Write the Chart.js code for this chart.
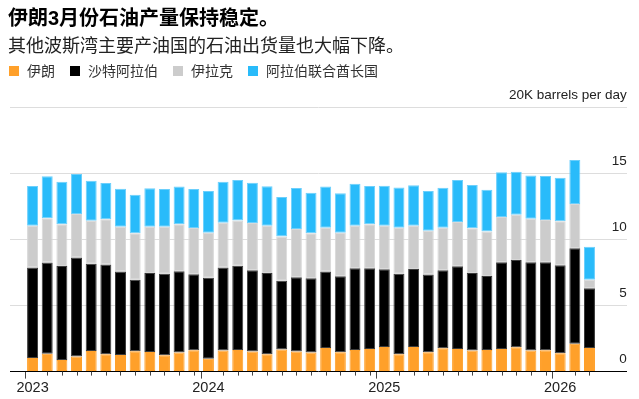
<!DOCTYPE html>
<html>
<head>
<meta charset="utf-8">
<script src="https://cdn.jsdelivr.net/npm/chart.js@4.4.1/dist/chart.umd.min.js"></script>
<style>
  html, body { margin: 0; padding: 0; background: #fff; }
  #wrap { position: relative; width: 639px; height: 399px; overflow: hidden; }
  #wrap canvas { position: absolute; left: 0; top: 0; }
  .txt { position: absolute; left: 8px; white-space: nowrap; font-family: "Liberation Sans", "Noto Sans CJK SC", sans-serif; }
  #title { top: 8px; font-size: 20px; line-height: 20px; font-weight: bold; color: #000; }
  #sub { top: 37px; font-size: 18px; line-height: 18px; color: #222; }
  #legend { top: 64px; left: 9px; font-size: 14px; line-height: 14px; color: #333; display: flex; }
  .item { display: flex; align-items: center; margin-right: 15px; }
  .sw { width: 10px; height: 10px; margin-right: 8px; }
</style>
</head>
<body>
<div id="wrap">
  <canvas id="c" width="639" height="399"></canvas>
  <div id="title" class="txt">伊朗3月份石油产量保持稳定。</div>
  <div id="sub" class="txt">其他波斯湾主要产油国的石油出货量也大幅下降。</div>
  <div id="legend" class="txt"></div>
</div>
<script>
// ---- data ----
const months = [
  "2023-01","2023-02","2023-03","2023-04","2023-05","2023-06","2023-07","2023-08","2023-09","2023-10","2023-11","2023-12",
  "2024-01","2024-02","2024-03","2024-04","2024-05","2024-06","2024-07","2024-08","2024-09","2024-10","2024-11","2024-12",
  "2025-01","2025-02","2025-03","2025-04","2025-05","2025-06","2025-07","2025-08","2025-09","2025-10","2025-11","2025-12",
  "2026-01","2026-02","2026-03"
];
const seriesNames = ["伊朗", "沙特阿拉伯", "伊拉克", "阿拉伯联合酋长国"];
const seriesColors = ["#FFA02A", "#000000", "#CCCCCC", "#29BBFA"];
const seriesEdges  = ["#FFA02A", "#3C3C3C", "#D8D8D8", "#6CCFFC"];
const iran  = [1.04,1.36,0.88,1.14,1.57,1.31,1.26,1.54,1.49,1.24,1.44,1.62,0.98,1.59,1.64,1.52,1.31,1.67,1.52,1.44,1.79,1.46,1.64,1.72,1.87,1.31,1.87,1.46,1.77,1.72,1.59,1.64,1.72,1.84,1.59,1.62,1.39,2.12,1.79];
const saudi = [6.84,6.90,7.13,7.50,6.61,6.80,6.32,5.43,5.98,6.18,6.16,5.75,6.14,6.29,6.39,6.16,6.16,5.22,5.63,5.63,5.79,5.76,6.19,6.11,5.88,6.11,5.91,5.89,5.91,6.26,5.88,5.61,6.56,6.62,6.69,6.66,6.67,7.22,4.52];
const iraq  = [3.18,3.36,3.15,3.30,3.26,3.43,3.40,3.51,3.51,3.56,3.56,3.51,3.41,3.41,3.43,3.58,3.59,3.34,3.66,3.41,3.33,3.31,3.23,3.33,3.31,3.49,3.28,3.33,3.23,3.36,3.39,3.36,3.44,3.43,3.31,3.21,3.33,3.36,0.66];
const uae   = [3.01,3.18,3.23,3.03,3.03,2.75,2.88,2.93,2.91,2.86,2.86,2.96,3.16,3.10,3.06,3.06,2.98,3.00,3.10,3.08,3.11,2.98,3.18,2.91,3.03,3.05,3.06,3.01,3.03,3.18,3.28,3.18,3.38,3.26,3.28,3.33,3.31,3.34,2.50];
const yTicks = [0, 5, 10, 15, 20];
const yTopLabel = "20K barrels per day";

// ---- build ----
const seriesValues = [iran, saudi, iraq, uae];
const isYearStart = i => months[i] && months[i].endsWith("-01");

const datasets = seriesValues.map((vals, k) => ({
  label: seriesNames[k],
  data: vals.map((v, i) => ({ x: i, y: v })),
  backgroundColor: seriesColors[k],
  borderColor: seriesEdges[k],
  borderWidth: 1,
  borderSkipped: false,
  barPercentage: 0.75,
  categoryPercentage: 1.0
}));

// legend (HTML)
const legendEl = document.getElementById("legend");
seriesNames.forEach((n, k) => {
  const it = document.createElement("div");
  it.className = "item";
  const sw = document.createElement("span");
  sw.className = "sw";
  sw.style.background = seriesColors[k];
  const t = document.createElement("span");
  t.textContent = n;
  it.appendChild(sw); it.appendChild(t);
  legendEl.appendChild(it);
});

const shortTicks = {
  id: "shortTicks",
  afterDraw(chart) {
    const xs = chart.scales.x;
    const ctx = chart.ctx;
    const y0 = chart.chartArea.bottom;
    ctx.save();
    ctx.strokeStyle = "#444";
    ctx.lineWidth = 1;
    months.forEach((m, i) => {
      if (isYearStart(i)) return;
      const px = Math.round(xs.getPixelForValue(i)) + 0.5;
      ctx.beginPath();
      ctx.moveTo(px, y0);
      ctx.lineTo(px, y0 + 4);
      ctx.stroke();
    });
    ctx.restore();
  }
};

new Chart(document.getElementById("c"), {
  type: "bar",
  data: { datasets },
  plugins: [shortTicks],
  options: {
    responsive: false,
    animation: false,
    layout: { padding: { left: 10, right: 12.3, top: 107.7, bottom: 1 } },
    plugins: { legend: { display: false }, tooltip: { enabled: false }, title: { display: false } },
    scales: {
      x: {
        type: "linear",
        stacked: true,
        min: -1,
        max: 40,
        afterBuildTicks: s => { s.ticks = months.map((m, i) => ({ value: i })); },
        grid: {
          display: true,
          drawOnChartArea: false,
          drawTicks: true,
          tickLength: 7,
          tickWidth: 1,
          tickColor: c => (isYearStart(c.tick && c.tick.value) ? "#444" : "rgba(0,0,0,0)")
        },
        border: { display: true, color: "#000", width: 1 },
        ticks: {
          autoSkip: false,
          maxRotation: 0,
          padding: 1,
          color: "#222",
          font: { family: "Liberation Sans", size: 14.5 },
          callback: v => (isYearStart(v) ? months[v].slice(0, 4) : "")
        }
      },
      y: {
        position: "right",
        stacked: true,
        min: 0,
        max: 20,
        afterBuildTicks: s => { s.ticks = yTicks.map(v => ({ value: v })); },
        grid: {
          drawTicks: false,
          color: c => (c.tick && c.tick.value === 0 ? "rgba(0,0,0,0)" : "#dddddd"),
          lineWidth: 1
        },
        border: { display: false },
        ticks: {
          mirror: true,
          padding: 0,
          labelOffset: -12,
          color: "#222",
          font: { family: "Liberation Sans", size: 13.5 },
          callback: v => (v === 20 ? yTopLabel : String(v))
        }
      }
    }
  }
});
</script>
</body>
</html>
